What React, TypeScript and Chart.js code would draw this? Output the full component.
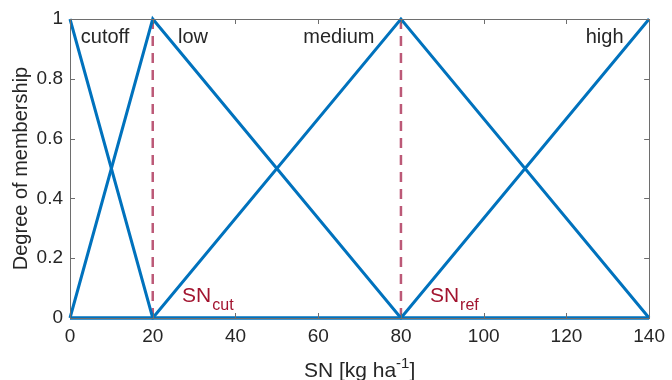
import React, { useEffect, useRef } from "react";
import { Chart, registerables } from "chart.js";

Chart.register(...registerables);

// ---- data ----
const xTicks = [0, 20, 40, 60, 80, 100, 120, 140];
const yTicks = [0, 0.2, 0.4, 0.6, 0.8, 1];

const cutoffX = [0, 20, 140];
const cutoffY = [1, 0, 0];
const lowX = [0, 20, 80, 140];
const lowY = [0, 1, 0, 0];
const mediumX = [0, 20, 80, 140];
const mediumY = [0, 0, 1, 0];
const highX = [0, 80, 140];
const highY = [0, 0, 1];

const snCutX = [20, 20];
const snCutY = [0, 1];
const snRefX = [80, 80];
const snRefY = [0, 1];

const setNames = ["cutoff", "low", "medium", "high"];
const setLabelX = [2.6, 26.1, 73.6, 133.8];
const setLabelAlign = ["left", "left", "right", "right"];
const setLabelY = 0.92;

const refNames = ["SN", "SN"];
const refSubs = ["cut", "ref"];
const refLabelX = [27.1, 87.0];
const refLabelY = 0.054;

const xTitleMain = "SN [kg ha";
const xTitleSup = "-1";
const xTitleEnd = "]";
const yTitle = "Degree of membership";

const BLUE = "#0072BD";
const RED = "#A2142F";
const FONT = "'Liberation Sans', Arial, Helvetica, sans-serif";

const pts = (xs: number[], ys: number[]) => xs.map((x, i) => ({ x, y: ys[i] }));

const decorPlugin = {
  id: "decor",
  afterDraw(chart: any) {
    const { ctx, chartArea: a, scales } = chart;
    const xs = scales.x;
    const ys = scales.y;
    ctx.save();
    ctx.strokeStyle = "#6e6e6e";
    ctx.lineWidth = 1;
    ctx.strokeRect(Math.round(a.left) + 0.5, Math.round(a.top) + 0.5, Math.round(a.right - a.left), Math.round(a.bottom - a.top));
    const tl = 5;
    ctx.beginPath();
    xTicks.forEach((v) => {
      const px = Math.round(xs.getPixelForValue(v)) + 0.5;
      ctx.moveTo(px, a.bottom);
      ctx.lineTo(px, a.bottom - tl);
      ctx.moveTo(px, a.top);
      ctx.lineTo(px, a.top + tl);
    });
    yTicks.forEach((v) => {
      const py = Math.round(ys.getPixelForValue(v)) + 0.5;
      ctx.moveTo(a.left, py);
      ctx.lineTo(a.left + tl, py);
      ctx.moveTo(a.right, py);
      ctx.lineTo(a.right - tl, py);
    });
    ctx.stroke();
    ctx.restore();
  },
  afterDatasetsDraw(chart: any) {
    const { ctx, chartArea: a, scales } = chart;
    const xs = scales.x;
    const ys = scales.y;
    ctx.save();
    ctx.fillStyle = "#262626";
    ctx.font = `20px ${FONT}`;
    ctx.textBaseline = "alphabetic";
    setNames.forEach((n, i) => {
      ctx.textAlign = setLabelAlign[i];
      ctx.fillText(n, xs.getPixelForValue(setLabelX[i]), ys.getPixelForValue(setLabelY));
    });
    ctx.fillStyle = RED;
    ctx.textAlign = "left";
    refNames.forEach((n, i) => {
      const x0 = xs.getPixelForValue(refLabelX[i]);
      const y0 = ys.getPixelForValue(refLabelY);
      ctx.font = `21px ${FONT}`;
      ctx.fillText(n, x0, y0);
      const w = ctx.measureText(n).width;
      ctx.font = `16px ${FONT}`;
      ctx.fillText(refSubs[i], x0 + w + 1, y0 + 8);
    });
    ctx.fillStyle = "#262626";
    ctx.font = `21px ${FONT}`;
    const w1 = ctx.measureText(xTitleMain).width;
    const w3 = ctx.measureText(xTitleEnd).width;
    ctx.font = `15px ${FONT}`;
    const w2 = ctx.measureText(xTitleSup).width;
    const cx = (a.left + a.right) / 2;
    const total = w1 + w2 + w3;
    let x = cx - total / 2;
    const by = 377;
    ctx.font = `21px ${FONT}`;
    ctx.fillText(xTitleMain, x, by);
    x += w1;
    ctx.font = `15px ${FONT}`;
    ctx.fillText(xTitleSup, x, by - 9);
    x += w2;
    ctx.font = `21px ${FONT}`;
    ctx.fillText(xTitleEnd, x, by);
    ctx.restore();
  },
};

export default function App() {
  const ref = useRef<HTMLCanvasElement>(null);

  useEffect(() => {
    document.body.style.margin = "0";
    const canvas = ref.current!;
    const lineDs = (xs: number[], ys: number[]) => ({
      data: pts(xs, ys),
      showLine: true,
      borderColor: BLUE,
      borderWidth: 3,
      pointRadius: 0,
      fill: false,
      clip: false as any,
      order: 0,
      borderJoinStyle: "miter" as const,
    });
    const dashDs = (xs: number[], ys: number[]) => ({
      data: pts(xs, ys),
      showLine: true,
      borderColor: "rgba(176, 60, 95, 0.85)",
      borderWidth: 2.5,
      borderDash: [10, 7],
      pointRadius: 0,
      fill: false,
      clip: false as any,
      order: 1,
    });
    const chart = new Chart(canvas, {
      type: "scatter",
      data: {
        datasets: [
          lineDs(cutoffX, cutoffY),
          lineDs(lowX, lowY),
          lineDs(mediumX, mediumY),
          lineDs(highX, highY),
          dashDs(snCutX, snCutY),
          dashDs(snRefX, snRefY),
        ] as any,
      },
      options: {
        animation: false,
        responsive: false,
        devicePixelRatio: 1,
        layout: { padding: { top: 19, right: 18, left: 0, bottom: 0 } },
        plugins: { legend: { display: false }, tooltip: { enabled: false } },
        scales: {
          x: {
            type: "linear",
            min: 0,
            max: 140,
            afterBuildTicks: (s: any) => {
              s.ticks = xTicks.map((v) => ({ value: v }));
            },
            afterFit: (s: any) => {
              s.height = 62;
            },
            grid: { display: false, drawTicks: false },
            border: { display: false },
            ticks: {
              padding: 7,
              color: "#262626",
              font: { family: FONT, size: 19 },
              maxRotation: 0,
              callback: (v: any) => String(v),
            },
          },
          y: {
            type: "linear",
            min: 0,
            max: 1,
            afterBuildTicks: (s: any) => {
              s.ticks = yTicks.map((v) => ({ value: v }));
            },
            afterFit: (s: any) => {
              s.width = 70;
            },
            grid: { display: false, drawTicks: false },
            border: { display: false },
            ticks: {
              padding: 7,
              color: "#262626",
              font: { family: FONT, size: 19 },
              callback: (v: any) => String(Math.round(Number(v) * 10) / 10),
            },
            title: {
              display: true,
              text: yTitle,
              color: "#262626",
              font: { family: FONT, size: 20 },
              padding: { top: 9, bottom: 0 },
            },
          },
        },
      },
      plugins: [decorPlugin],
    });
    return () => chart.destroy();
  }, []);

  return <canvas ref={ref} width={672} height={380} style={{ display: "block" }} />;
}
